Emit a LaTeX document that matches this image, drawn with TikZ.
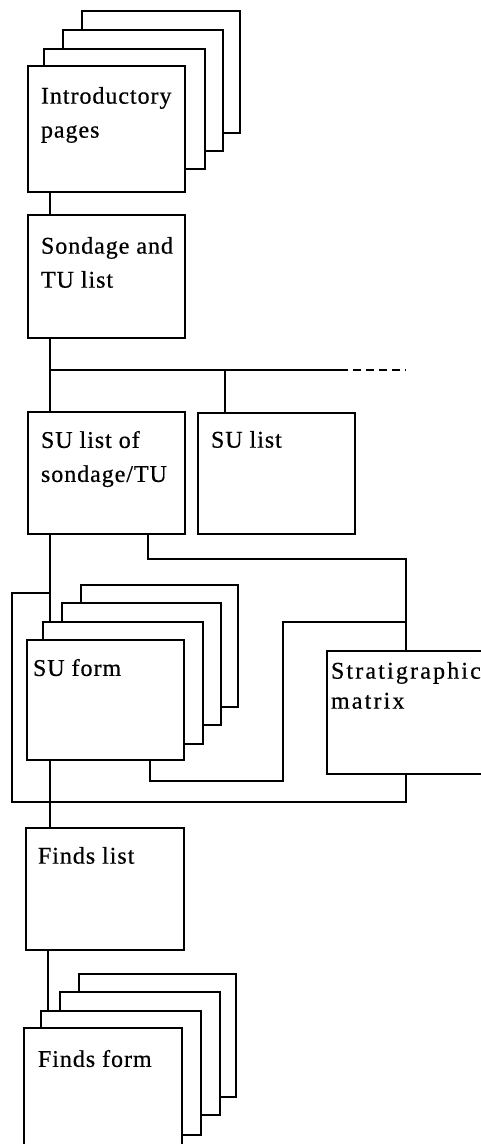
\documentclass[tikz,border=0pt]{standalone}
\usepackage{fontspec}
\setmainfont{Liberation Serif}[LetterSpace=4,FakeBold=0.6]
\usetikzlibrary{calc}
\begin{document}
\begin{tikzpicture}[x=1pt,y=-1pt,line width=2pt,
  box/.style={draw,fill=white,rectangle,inner sep=0pt,anchor=north west},
  lbl/.style={anchor=north west,inner sep=0pt,align=left,font=\fontsize{24}{34}\selectfont},
  conn/.style={draw,line join=miter},
  dashconn/.style={draw,dash pattern=on 8pt off 5pt}]
\useasboundingbox (0,0) rectangle (481,1144);
\clip (0,0) rectangle (481,1144);
\fill[white] (0,0) rectangle (481,1144);
% coordinates
\coordinate (sp) at (50,0);
\coordinate (sp2) at (48,0);
\coordinate (hj) at (50,370);
\coordinate (hd) at (340,370);
\coordinate (he) at (406,370);
\coordinate (b2) at (225,370);
\coordinate (r1) at (148,559);
\coordinate (r2) at (406,559);
\coordinate (j1) at (150,781);
\coordinate (j2) at (283,781);
\coordinate (j3) at (283,622);
\coordinate (j4) at (406,622);
\coordinate (l1) at (406,802);
\coordinate (l2) at (12,802);
\coordinate (l3) at (12,593);
\coordinate (l4) at (50,593);
% boxes (positions only, drawn later on top of connectors)
\path
  node[box,minimum width=156pt,minimum height=120pt] (intro4) at (82,11) {}
  node[box,minimum width=158pt,minimum height=119pt] (intro3) at (63,30) {}
  node[box,minimum width=159pt,minimum height=118pt] (intro2) at (44,49) {}
  node[box,minimum width=155pt,minimum height=124pt] (intro) at (28,66) {}
  node[box,minimum width=155pt,minimum height=121pt] (sond) at (28,215) {}
  node[box,minimum width=155pt,minimum height=120pt] (sust) at (28,412) {}
  node[box,minimum width=155pt,minimum height=119pt] (sul) at (198,413) {};
% connectors
\draw[conn] (intro.south -| sp) -- (sond.north -| sp);
\draw[conn] (sond.south -| sp) -- (sust.north -| sp);
\draw[conn] (hj) -- (hd);
\draw[dashconn] (hd) -- (he);
\draw[conn] (b2) -- (b2 |- sul.north);
\path
  node[box,minimum width=155pt,minimum height=120pt] (su4) at (81,585) {}
  node[box,minimum width=157pt,minimum height=120pt] (su3) at (62,603) {}
  node[box,minimum width=158pt,minimum height=120pt] (su2) at (43,622) {}
  node[box,minimum width=155pt,minimum height=118pt] (suf) at (27,640) {}
  node[box,minimum width=180pt,minimum height=121pt] (mat) at (327,651) {}
  node[box,minimum width=156pt,minimum height=120pt] (finl) at (26,828) {}
  node[box,minimum width=155pt,minimum height=121pt] (fin4) at (79,974) {}
  node[box,minimum width=158pt,minimum height=121pt] (fin3) at (60,992) {}
  node[box,minimum width=158pt,minimum height=122pt] (fin2) at (41,1011) {}
  node[box,minimum width=156pt,minimum height=140pt] (finf) at (24,1028) {};
\draw[conn] (sust.south -| sp) -- (su2.north -| sp);
\draw[conn] (sust.south -| r1) -- (r1) -- (r2) -- (r2 |- mat.north);
\draw[conn] (suf.south -| j1) -- (j1) -- (j2) -- (j3) -- (j4);
\draw[conn] (mat.south -| l1) -- (l1) -- (l2) -- (l3) -- (l4);
\draw[conn] (suf.south -| sp) -- (finl.north -| sp);
\draw[conn] (finl.south -| sp2) -- (fin2.north -| sp2);
% redraw boxes on top
\foreach \n in {intro4,intro3,intro2,intro,sond,sust,sul,su4,su3,su2,suf,mat,finl,fin4,fin3,fin2,finf}{
  \draw[fill=white] (\n.north west) rectangle (\n.south east);
}
% labels
\node[lbl] (tintro) at ($(intro.north west)+(12,20)$) {Introductory\\pages};
\node[lbl] (tsond) at ($(sond.north west)+(12,21)$) {Sondage and\\TU list};
\node[lbl] (tsust) at ($(sust.north west)+(12,18)$) {SU list of\\sondage/TU};
\node[lbl] (tsul) at ($(sul.north west)+(12,17)$) {SU list};
\node[lbl] (tsuf) at ($(suf.north west)+(5,18)$) {SU form};
\node[lbl,font=\fontsize{24}{30}\selectfont\addfontfeatures{LetterSpace=9}] (tmat) at ($(mat.north west)+(3,10)$) {Stratigraphic\\matrix};
\node[lbl] (tfinl) at ($(finl.north west)+(11,18)$) {Finds list};
\node[lbl] (tfinf) at ($(finf.north west)+(13,21)$) {Finds form};
\end{tikzpicture}
\end{document}
